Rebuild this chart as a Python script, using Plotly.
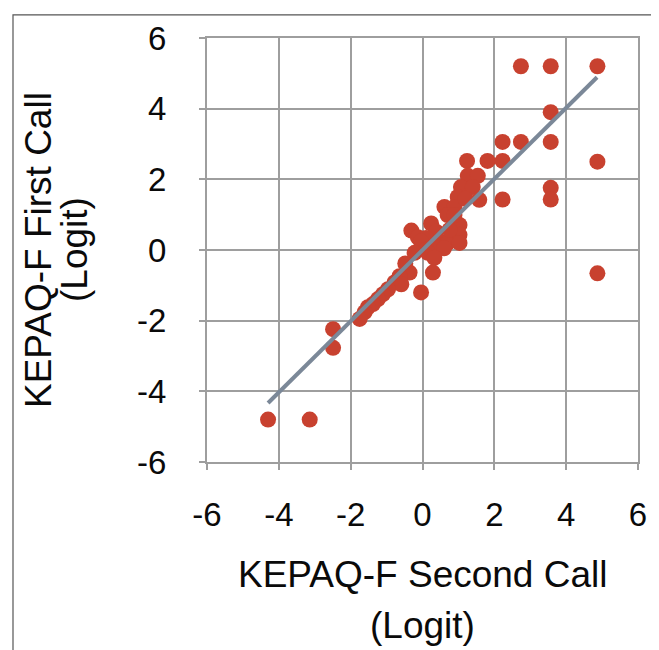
import plotly.graph_objects as go

# KEPAQ-F Second Call (x) vs First Call (y), logits
x_second = [2.74, 3.57, 4.87, 3.57, 2.23, 2.74, 3.57, 1.81, 2.23, 4.87,
            1.24, 1.26, 1.54, 1.07, 1.40, 0.98, 1.58, 2.23, 3.57, 3.57,
            4.87, 0.61, 0.89, 1.20, 0.70, 0.24, 1.03, -0.31, 0.38, 1.03,
            -0.13, 0.10, -0.04, 0.47, 0.70, 1.03, 0.38, 0.10, 0.60, -0.22,
            0.15, 0.33, -0.48, 0.29, -0.04, -0.36, -0.64, -0.78, -0.59, -0.96,
            -1.10, -1.24, -1.38, -1.52, -1.61, -1.75, -2.49, -2.49, -4.30, -3.14,
            0.75, 0.89]
y_first = [5.20, 5.20, 5.20, 3.90, 3.06, 3.06, 3.06, 2.52, 2.52, 2.50,
           2.52, 2.10, 2.10, 1.78, 1.78, 1.50, 1.42, 1.43, 1.76, 1.43,
           -0.66, 1.22, 1.22, 1.45, 0.99, 0.75, 0.71, 0.55, 0.52, 0.43,
           0.36, 0.34, 0.24, 0.24, 0.20, 0.20, 0.10, 0.01, 0.05, -0.08,
           -0.08, -0.22, -0.38, -0.64, -1.20, -0.64, -0.74, -0.92, -0.97, -1.11,
           -1.25, -1.39, -1.53, -1.62, -1.76, -1.95, -2.24, -2.77, -4.80, -4.80,
           0.57, 0.99]

# fitted trend line end points
trend_x = [-4.30, 4.86]
trend_y = [-4.33, 4.89]

tick_vals = [-6, -4, -2, 0, 2, 4, 6]
tick_text = ["-6", "-4", "-2", "0", "2", "4", "6"]

x_title_lines = ["KEPAQ-F Second Call", "(Logit)"]
y_title_lines = ["KEPAQ-F First Call", "(Logit)"]

OFF = 8  # page body margin offset
W, H = 659 - OFF, 650 - OFF
L, T = 207 - OFF, 32 - OFF
pw, ph = 431, 430
R, B = W - L - pw, H - T - ph

def px(xpix):
    return (xpix - OFF - L) / pw

def py(ypix):
    return (H - B - (ypix - OFF)) / ph

grid_col = "#9E9E9E"
font_family = "Liberation Sans, Arial, Helvetica, sans-serif"

fig = go.Figure()
fig.add_trace(go.Scatter(
    x=x_second, y=y_first, mode="markers",
    marker=dict(size=16, color="#C8412F", line=dict(width=0)),
    showlegend=False, hoverinfo="x+y"))
fig.add_trace(go.Scatter(
    x=trend_x, y=trend_y, mode="lines",
    line=dict(color="#7B8898", width=4),
    showlegend=False, hoverinfo="skip"))

axis_common = dict(
    range=[-6, 6], tickmode="array", tickvals=tick_vals, ticktext=tick_text,
    showgrid=True, gridcolor=grid_col, gridwidth=2,
    zeroline=False, showline=True, linecolor=grid_col, linewidth=2, mirror=True,
    ticks="outside", ticklen=6, tickwidth=2, tickcolor=grid_col,
    tickfont=dict(family=font_family, size=33, color="#0A0A0A"),
    fixedrange=True,
)

fig.update_layout(
    width=W, height=H,
    margin=dict(l=L, r=R, t=T, b=B, pad=0),
    paper_bgcolor="white", plot_bgcolor="white",
    xaxis=dict(**axis_common, ticklabelstandoff=16),
    yaxis=dict(**axis_common, ticklabelstandoff=26),
    font=dict(family=font_family, color="#0A0A0A"),
)

ann_font = dict(family=font_family, size=37, color="#0A0A0A")
fig.add_annotation(text=x_title_lines[0], xref="paper", yref="paper",
                   x=px(422.5), y=py(576), xanchor="center", yanchor="middle",
                   showarrow=False, font=ann_font)
fig.add_annotation(text=x_title_lines[1], xref="paper", yref="paper",
                   x=px(422.5), y=py(628), xanchor="center", yanchor="middle",
                   showarrow=False, font=ann_font)
fig.add_annotation(text=y_title_lines[0], xref="paper", yref="paper",
                   x=px(38), y=py(247), xanchor="center", yanchor="middle",
                   textangle=-90, showarrow=False, font=ann_font)
fig.add_annotation(text=y_title_lines[1], xref="paper", yref="paper",
                   x=px(74), y=py(247), xanchor="center", yanchor="middle",
                   textangle=-90, showarrow=False, font=ann_font)

# outer frame around the figure
fig.add_shape(type="rect", xref="paper", yref="paper",
              x0=px(13), x1=px(657), y0=py(670), y1=py(8.6),
              line=dict(color="#555555", width=1.2), fillcolor="rgba(0,0,0,0)",
              layer="above")

fig.write_html("out.html")
